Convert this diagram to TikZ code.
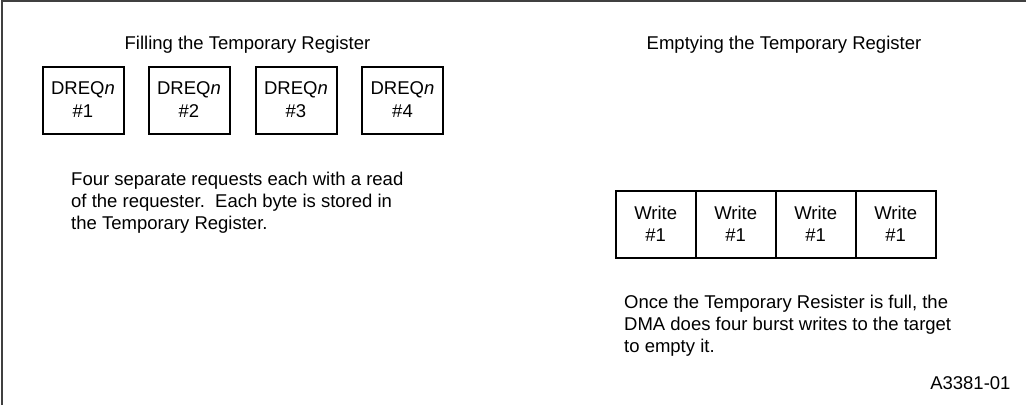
\documentclass[tikz,border=0pt]{standalone}
\usepackage{fontspec}
\setmainfont{Liberation Sans}
\begin{document}
\begin{tikzpicture}[x=1pt,y=-1pt,
  txt/.style={font=\fontsize{18.5}{22}\selectfont, inner sep=0pt},
  dreq/.style={txt, draw, line width=2pt, minimum width=81pt, minimum height=67pt, align=center},
  wcell/.style={txt, draw, line width=2pt, outer sep=0pt, minimum width=80pt, minimum height=67pt, align=center},
  para/.style={txt, align=left, anchor=base west},
  title/.style={txt, anchor=base}]
\useasboundingbox (0,0) rectangle (1026,405);
\draw[line width=1.5pt, black!75] (2,405) -- (2,0.8) -- (1026,0.8);
\node[title] (t1) at (247.5,49) {Filling the Temporary Register};
\node[title] (t2) at (784,49) {Emptying the Temporary Register};
\node[dreq] (d1) at (83,100) {DREQ\textit{n}\\[1pt]\#1};
\node[dreq] (d2) at (189,100) {DREQ\textit{n}\\[1pt]\#2};
\node[dreq] (d3) at (296,100) {DREQ\textit{n}\\[1pt]\#3};
\node[dreq] (d4) at (402.5,100) {DREQ\textit{n}\\[1pt]\#4};
\node[para] (p1) at (71,229.5) {Four separate requests each with a read\\of the requester.\ \ Each byte is stored in\\the Temporary Register.};
\node[wcell] (w1) at (655.7,224) {Write\\\#1};
\node[wcell, anchor=west] (w2) at (w1.east) {Write\\\#1};
\node[wcell, anchor=west] (w3) at (w2.east) {Write\\\#1};
\node[wcell, anchor=west] (w4) at (w3.east) {Write\\\#1};
\node[para] (p2) at (624,352) {Once the Temporary Resister is full, the\\DMA does four burst writes to the target\\to empty it.};
\node[txt, anchor=base east] (id) at (1010.7,389) {A3381-01};
\end{tikzpicture}
\end{document}
